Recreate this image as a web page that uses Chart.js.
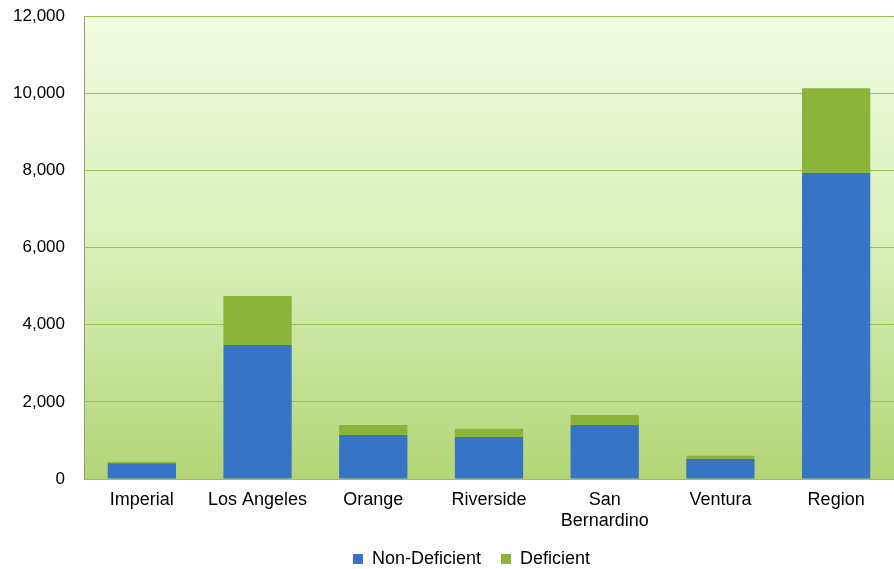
<!DOCTYPE html>
<html>
<head>
<meta charset="utf-8">
<script src="https://cdn.jsdelivr.net/npm/chart.js@4"></script>
<style>
  html, body { margin: 0; padding: 0; background: #fff; }
  #wrap { width: 894px; height: 569px; position: relative; }
</style>
</head>
<body>
<div id="wrap"><canvas id="c"></canvas></div>
<script>
// categorias e valores
const CATEGORIES = ['Imperial', 'Los Angeles', 'Orange', 'Riverside', ['San', 'Bernardino'], 'Ventura', 'Region'];
const NON_DEFICIENT = [410, 3470, 1140, 1090, 1400, 520, 7930];
const DEFICIENT = [30, 1270, 260, 210, 260, 80, 2200];
const Y_MAX = 12000;
const Y_STEP = 2000;

const FONT = 'Liberation Sans, Arial, sans-serif';

// fundo em degradê da área do gráfico + borda
const plotBg = {
  id: 'plotBg',
  afterLayout(chart) {
    // rótulos de 2 linhas no eixo x não podem ser cortados
    const x = chart.scales.x;
    if (x) x.bottom = x.top + 62;
    // legenda um pouco mais baixa e à direita, como no original
    const lg = chart.legend;
    if (!lg) return;
    lg.top += 9; lg.bottom += 9;
    lg.left += 18; lg.right += 18;
  },
  beforeDraw(chart) {
    const { ctx, chartArea: a } = chart;
    const g = ctx.createLinearGradient(0, a.top, 0, a.bottom);
    g.addColorStop(0, '#f1fbe0');
    g.addColorStop(0.5, '#dbefba');
    g.addColorStop(1, '#b2d576');
    ctx.save();
    ctx.fillStyle = g;
    ctx.fillRect(a.left, a.top, a.right - a.left, a.bottom - a.top);
    ctx.strokeStyle = '#8f9a86';
    ctx.lineWidth = 1;
    ctx.beginPath();
    ctx.moveTo(a.left + 0.5, a.bottom);
    ctx.lineTo(a.left + 0.5, a.top + 0.5);
    ctx.lineTo(a.right, a.top + 0.5);
    ctx.stroke();
    ctx.strokeStyle = '#a0a0a0';
    ctx.beginPath();
    ctx.moveTo(a.left, a.bottom + 0.5);
    ctx.lineTo(a.right, a.bottom + 0.5);
    ctx.stroke();
    ctx.restore();
  }
};

function barFill(edge, mid) {
  return c => {
    const el = c.element;
    if (!c.chart.chartArea || !el || el.width === undefined) return mid;
    const x0 = el.x - el.width / 2, x1 = el.x + el.width / 2;
    if (!isFinite(x0) || !isFinite(x1) || x1 <= x0) return mid;
    const g = c.chart.ctx.createLinearGradient(x0, 0, x1, 0);
    g.addColorStop(0, edge);
    g.addColorStop(0.15, mid);
    g.addColorStop(0.85, mid);
    g.addColorStop(1, edge);
    return g;
  };
}

new Chart(document.getElementById('c'), {
  type: 'bar',
  data: {
    labels: CATEGORIES,
    datasets: [
      { label: 'Non-Deficient', data: NON_DEFICIENT, backgroundColor: barFill('#2d60a8', '#3874c6'), borderWidth: 0 },
      { label: 'Deficient', data: DEFICIENT, backgroundColor: barFill('#7a9e32', '#8ab43a'), borderWidth: 0 }
    ]
  },
  plugins: [plotBg],
  options: {
    responsive: true,
    maintainAspectRatio: false,
    animation: false,
    layout: { padding: { top: 16, right: 0, left: 13, bottom: 0 } },
    datasets: { bar: { categoryPercentage: 1, barPercentage: 0.59 } },
    plugins: {
      legend: {
        position: 'bottom',
        labels: {
          color: '#000',
          font: { family: FONT, size: 18 },
          boxWidth: 10, boxHeight: 10, padding: 20,
          generateLabels(chart) {
            const cols = ['#3874c6', '#8ab43a'];
            return chart.data.datasets.map((d, i) => ({
              text: d.label, fillStyle: cols[i], strokeStyle: cols[i], lineWidth: 0, datasetIndex: i, fontColor: '#000'
            }));
          }
        }
      },
      tooltip: { enabled: false }
    },
    scales: {
      x: {
        stacked: true,
        grid: { display: false, drawTicks: false },
        border: { display: false },
        ticks: { color: '#000', font: { family: FONT, size: 18, lineHeight: 1.2 }, padding: 10, maxRotation: 0 },
        afterFit: s => { s.height = 42; s.paddingLeft = 0; s.paddingRight = 0; }
      },
      y: {
        stacked: true,
        min: 0, max: Y_MAX,
        grid: { color: '#9cc05a', lineWidth: 1, drawTicks: false },
        border: { display: false },
        ticks: {
          stepSize: Y_STEP, color: '#000', padding: 19,
          font: { family: FONT, size: 17 },
          callback: v => v.toLocaleString('en-US')
        },
        afterFit: s => { s.width = 71; s.paddingTop = 0; s.paddingBottom = 0; }
      }
    }
  }
});
</script>
</body>
</html>
